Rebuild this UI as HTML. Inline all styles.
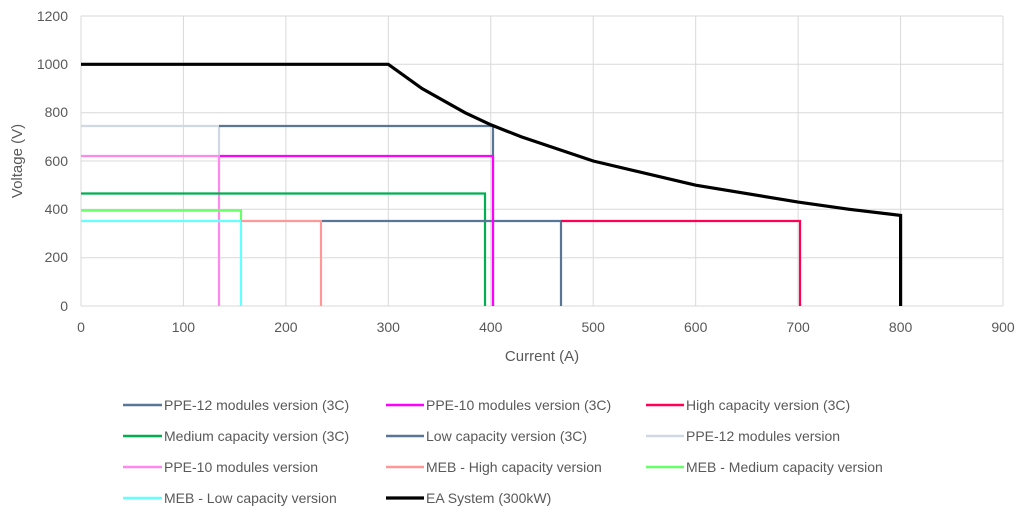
<!DOCTYPE html>
<html><head><meta charset="utf-8"><style>
body{margin:0;background:#fff;}
svg{display:block;font-family:"Liberation Sans",sans-serif;}
</style></head><body>
<svg width="1024" height="516" viewBox="0 0 1024 516" xmlns="http://www.w3.org/2000/svg">
<rect width="1024" height="516" fill="#fff"/>
<g stroke="#d9d9d9" stroke-width="1">
<line x1="81" y1="16" x2="1003" y2="16"/><line x1="81" y1="64.3" x2="1003" y2="64.3"/>
<line x1="81" y1="112.7" x2="1003" y2="112.7"/><line x1="81" y1="161" x2="1003" y2="161"/>
<line x1="81" y1="209.3" x2="1003" y2="209.3"/><line x1="81" y1="257.7" x2="1003" y2="257.7"/>
<line x1="81" y1="306" x2="1003" y2="306"/>
<line x1="81" y1="16" x2="81" y2="306"/><line x1="183.4" y1="16" x2="183.4" y2="306"/>
<line x1="285.9" y1="16" x2="285.9" y2="306"/><line x1="388.3" y1="16" x2="388.3" y2="306"/>
<line x1="490.8" y1="16" x2="490.8" y2="306"/><line x1="593.2" y1="16" x2="593.2" y2="306"/>
<line x1="695.7" y1="16" x2="695.7" y2="306"/><line x1="798.1" y1="16" x2="798.1" y2="306"/>
<line x1="900.6" y1="16" x2="900.6" y2="306"/><line x1="1003" y1="16" x2="1003" y2="306"/>
</g>
<g font-size="14" fill="#595959" text-anchor="end">
<text x="68" y="21">1200</text><text x="68" y="69">1000</text><text x="68" y="117">800</text>
<text x="68" y="166">600</text><text x="68" y="214">400</text><text x="68" y="262">200</text><text x="68" y="311">0</text>
</g>
<g font-size="14" fill="#595959" text-anchor="middle">
<text x="81" y="332">0</text><text x="183.4" y="332">100</text><text x="285.9" y="332">200</text>
<text x="388.3" y="332">300</text><text x="490.8" y="332">400</text><text x="593.2" y="332">500</text>
<text x="695.7" y="332">600</text><text x="798.1" y="332">700</text><text x="900.6" y="332">800</text><text x="1003" y="332">900</text>
</g>
<text x="542" y="361" font-size="15" fill="#595959" text-anchor="middle">Current (A)</text>
<text transform="translate(22,161) rotate(-90)" font-size="15" fill="#595959" text-anchor="middle">Voltage (V)</text>
<g fill="none" stroke-width="2.2">
<polyline stroke="#cfd8e3" points="81,126 219,126 219,156"/>
<polyline stroke="#ff88ee" points="81,156 219,156 219,306"/>
<polyline stroke="#00b050" points="81,193.5 485,193.5 485,306"/>
<polyline stroke="#66ff66" points="81,210.5 241,210.5 241,221"/>
<polyline stroke="#66ffff" points="81,221 241,221 241,306"/>
<polyline stroke="#ff9999" points="241,221 321,221 321,306"/>
<polyline stroke="#5a7696" points="322,221 561,221 561,306"/>
<polyline stroke="#ff0055" points="561,221 800,221 800,306"/>
<polyline stroke="#5a7696" points="219,126 493,126 493,306"/>
<polyline stroke="#ff00ff" points="220,156 493,156 493,306"/>
<polyline stroke="#000" stroke-width="3.2" points="81,64.3 388.3,64.3 422,88.5 465,112.7 490.8,124.8 521.5,136.9 593.2,161 695.7,185.2 798.1,202.1 849.3,209.3 900.6,215.4 900.6,306"/>
</g>
<g stroke-width="2.5">
<line x1="123" y1="405" x2="162" y2="405" stroke="#5a7696"/>
<line x1="386" y1="405" x2="424" y2="405" stroke="#ff00ff"/>
<line x1="646" y1="405" x2="684" y2="405" stroke="#ff0055"/>
<line x1="123" y1="436" x2="162" y2="436" stroke="#00b050"/>
<line x1="386" y1="436" x2="424" y2="436" stroke="#5a7696"/>
<line x1="646" y1="436" x2="684" y2="436" stroke="#cfd8e3"/>
<line x1="123" y1="467" x2="162" y2="467" stroke="#ff88ee"/>
<line x1="386" y1="467" x2="424" y2="467" stroke="#ff9999"/>
<line x1="646" y1="467" x2="684" y2="467" stroke="#66ff66"/>
<line x1="123" y1="498" x2="162" y2="498" stroke="#66ffff"/>
<line x1="386" y1="498" x2="424" y2="498" stroke="#000" stroke-width="3.2"/>
</g>
<g font-size="14" fill="#595959">
<text x="164" y="410">PPE-12 modules version (3C)</text>
<text x="426" y="410">PPE-10 modules version (3C)</text>
<text x="686" y="410">High capacity version (3C)</text>
<text x="164" y="441">Medium capacity version (3C)</text>
<text x="426" y="441">Low capacity version (3C)</text>
<text x="686" y="441">PPE-12 modules version</text>
<text x="164" y="472">PPE-10 modules version</text>
<text x="426" y="472">MEB - High capacity version</text>
<text x="686" y="472">MEB - Medium capacity version</text>
<text x="164" y="503">MEB - Low capacity version</text>
<text x="426" y="503">EA System (300kW)</text>
</g>
</svg>
</body></html>
